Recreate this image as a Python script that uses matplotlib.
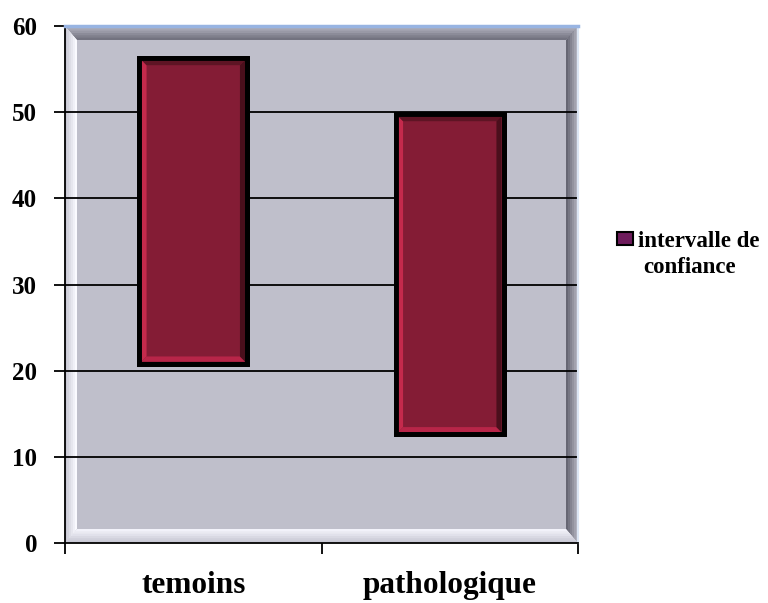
import matplotlib
matplotlib.use("Agg")
import matplotlib.pyplot as plt
from matplotlib.patches import Polygon, Rectangle
import numpy as np

categories = ["temoins", "pathologique"]
low_values = [20.8, 12.6]
high_values = [56.3, 49.8]
legend_lines = ["intervalle de", "confiance"]
y_ticks = [0, 10, 20, 30, 40, 50, 60]

FONT = "Liberation Serif"
fig = plt.figure(figsize=(7.68, 6.03), dpi=100)
fig.patch.set_facecolor("white")
L, R, B, T = 65 / 768, 578 / 768, 1 - 543 / 603, 1 - 26 / 603
ax = fig.add_axes([L, B, R - L, T - B])
ax.set_facecolor("#BFBFCB")
ax.set_xlim(-0.5, 1.5)
ax.set_ylim(0, 60)

# plot-area bevel (axes coords)
bw, bh = 12 / 513, 14 / 517
def band(pts, col, z=0.5):
    ax.add_patch(Polygon(pts, closed=True, transform=ax.transAxes,
                         facecolor=col, edgecolor="none", zorder=z))
n = 6
base = np.array([0.75, 0.75, 0.80])
for i in range(n):
    f = 1 - i / n
    t = i / n
    band([(0, 1), (1, 1), (1 - bw * f, 1 - bh * f), (bw * f, 1 - bh * f)],
         np.array([0.45, 0.45, 0.50]) + (base - [0.45, 0.45, 0.50]) * t)
    band([(1, 1), (1, 0), (1 - bw * f, bh * f), (1 - bw * f, 1 - bh * f)],
         np.array([0.40, 0.40, 0.45]) + (base - [0.40, 0.40, 0.45]) * t)
    band([(0, 0), (0, 1), (bw * f, 1 - bh * f), (bw * f, bh * f)],
         np.array([0.98, 0.98, 1.0]) + (base - [0.98, 0.98, 1.0]) * t)
    band([(0, 0), (1, 0), (1 - bw * f, bh * f), (bw * f, bh * f)],
         np.array([0.95, 0.95, 0.98]) + (base - [0.95, 0.95, 0.98]) * t)

# gridlines
for y in y_ticks[1:-1]:
    ax.axhline(y, color="black", lw=1.3, zorder=1)

# floating bars
x = np.arange(len(categories))
width = 0.42
heights = [h - l for h, l in zip(high_values, low_values)]
bars = ax.bar(x, heights, width=width, bottom=low_values, color="#841C35",
              edgecolor="black", linewidth=3.5, zorder=3)
dx, dy = 0.02, 0.6
for xi, lo, hi in zip(x, low_values, high_values):
    x0, x1 = xi - width / 2 + 0.008, xi + width / 2 - 0.008
    y0, y1 = lo + 0.25, hi - 0.25
    def bp(pts, col):
        ax.add_patch(Polygon(pts, closed=True, facecolor=col, edgecolor="none", zorder=4))
    bp([(x0, y0), (x0, y1), (x0 + dx, y1 - dy), (x0 + dx, y0 + dy)], "#C42A4C")
    bp([(x0, y0), (x1, y0), (x1 - dx, y0 + dy), (x0 + dx, y0 + dy)], "#B82548")
    bp([(x0, y1), (x1, y1), (x1 - dx, y1 - dy), (x0 + dx, y1 - dy)], "#5E1424")
    bp([(x1, y0), (x1, y1), (x1 - dx, y1 - dy), (x1 - dx, y0 + dy)], "#4A0F1C")
    ax.add_patch(Rectangle((xi - width / 2, lo), width, hi - lo, facecolor="none",
                           edgecolor="black", linewidth=3.5, zorder=5))

# spines
ax.spines["top"].set_color("#98B4E2")
ax.spines["top"].set_linewidth(2.5)
ax.spines["right"].set_color("#DCE6F4")
ax.spines["right"].set_linewidth(1.5)
for s in ("left", "bottom"):
    ax.spines[s].set_color("black")
    ax.spines[s].set_linewidth(1.3)

ax.set_yticks(y_ticks)
ax.set_yticklabels([str(v) for v in y_ticks], fontfamily=FONT, fontweight="bold", fontsize=18)
ax.tick_params(axis="y", length=8, width=1.3, pad=12, direction="out")
ax.set_xticks([-0.5, 0.5, 1.5])
ax.set_xticklabels([])
ax.tick_params(axis="x", which="major", length=8, width=1.3, direction="out")
ax.set_xticks(x, minor=True)
ax.set_xticklabels(categories, minor=True, fontfamily=FONT, fontweight="bold", fontsize=22.5)
ax.tick_params(axis="x", which="minor", length=0, pad=20)

# legend
fig.patches.append(Rectangle((617 / 768, 1 - 245 / 603), 16 / 768, 13 / 603,
                             transform=fig.transFigure, facecolor="#6E1C5C",
                             edgecolor="black", linewidth=1.5))
fig.text(638 / 768, 1 - 247 / 603, legend_lines[0], ha="left", va="baseline",
         fontfamily=FONT, fontweight="bold", fontsize=16.5)
fig.text(690 / 768, 1 - 273 / 603, legend_lines[1], ha="center", va="baseline",
         fontfamily=FONT, fontweight="bold", fontsize=16.5)

fig.savefig("out.png", dpi=100, facecolor="white")
